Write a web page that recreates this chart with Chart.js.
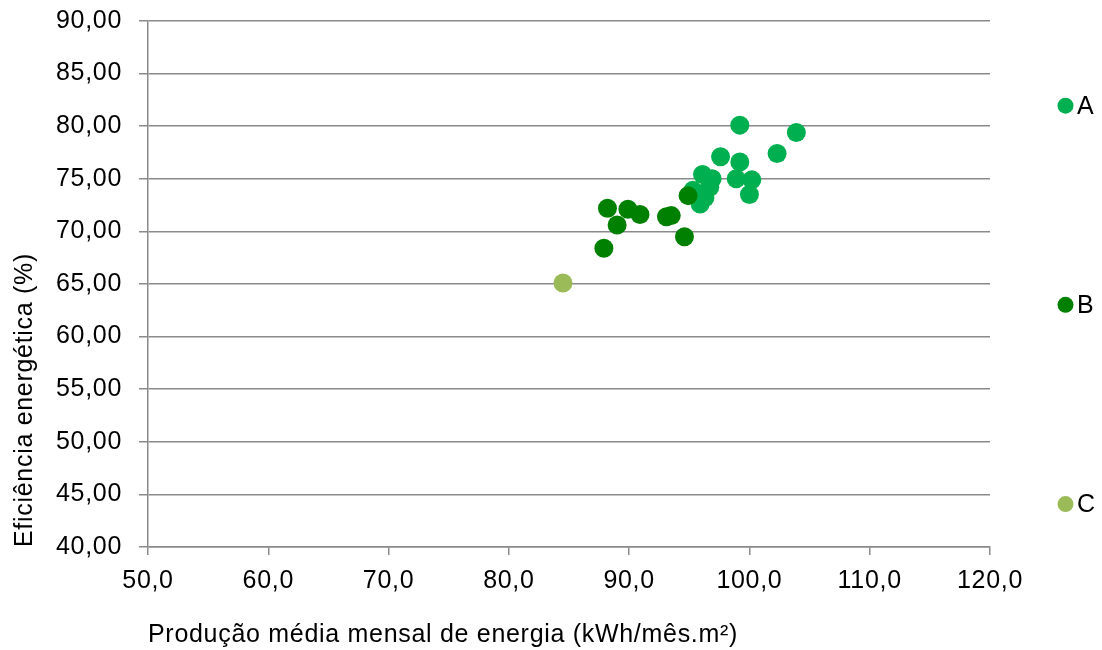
<!DOCTYPE html>
<html>
<head>
<meta charset="utf-8">
<script src="https://cdn.jsdelivr.net/npm/chart.js@4"></script>
<style>
    html, body { margin: 0; padding: 0; background: #ffffff; }
    #wrap { width: 1102px; height: 650px; }
</style>
</head>
<body>
<div id="wrap"><canvas id="eficienciaChart" width="1102" height="650"></canvas></div>
<script>
// Produção média mensal (kWh/mês.m²) e eficiência (%) por grupo
const producaoA = [99.2, 103.9, 102.3, 97.6, 99.2, 98.9, 100.2, 100.0, 96.1, 96.9, 96.7, 96.2, 95.9, 95.3, 96.3];
const eficienciaA = [80.1, 79.4, 77.4, 77.1, 76.6, 75.0, 74.9, 73.5, 75.4, 75.0, 74.2, 73.6, 72.6, 73.9, 73.2];

const producaoB = [88.2, 89.9, 90.9, 89.0, 87.9, 93.1, 93.5, 94.6, 94.9];
const eficienciaB = [72.2, 72.1, 71.6, 70.6, 68.4, 71.4, 71.5, 69.5, 73.4];

const producaoC = [84.5];
const eficienciaC = [65.1];

const grupos = ['A', 'B', 'C'];
const cores = ['#00b050', '#008000', '#9bbb59'];

const yTicks = [40, 45, 50, 55, 60, 65, 70, 75, 80, 85, 90];
const xTicks = [50, 60, 70, 80, 90, 100, 110, 120];

function toPoints(xs, ys) {
    return xs.map((x, i) => ({ x: x, y: ys[i] }));
}

const FONT = 'Arial, "Liberation Sans", sans-serif';
const FONT_SIZE = 25;
const AXIS_GRAY = '#8a8a8a';

// texto um pouco mais espaçado, como no gráfico original do Excel
const textSpacing = {
    id: 'textSpacing',
    beforeDraw(chart) {
        chart.ctx.letterSpacing = '0.7px';
    }
};

// legenda à direita, com os itens espalhados na vertical
const sideLegend = {
    id: 'sideLegend',
    afterDraw(chart) {
        const ctx = chart.ctx;
        const h = chart.height;
        ctx.save();
        ctx.font = FONT_SIZE + 'px ' + FONT;
        ctx.textBaseline = 'middle';
        ctx.textAlign = 'left';
        chart.data.datasets.forEach((ds, i) => {
            const y = h * (0.1625 + i * 0.3065);
            ctx.beginPath();
            ctx.arc(1065.5, y, 8, 0, Math.PI * 2);
            ctx.fillStyle = ds.backgroundColor;
            ctx.fill();
            ctx.fillStyle = '#000000';
            ctx.fillText(ds.label, 1077, y + 1);
        });
        ctx.restore();
    }
};

const datasets = [
    toPoints(producaoA, eficienciaA),
    toPoints(producaoB, eficienciaB),
    toPoints(producaoC, eficienciaC)
].map((pts, i) => ({
    label: grupos[i],
    data: pts,
    backgroundColor: cores[i],
    borderColor: cores[i],
    borderWidth: 0,
    pointRadius: 9.5,
    pointHoverRadius: 9.5,
    order: 3 - i
}));

const ctx = document.getElementById('eficienciaChart').getContext('2d');
const chart = new Chart(ctx, {
    type: 'scatter',
    data: { datasets: datasets },
    options: {
        responsive: false,
        animation: false,
        layout: {
            autoPadding: false,
            padding: { left: 0, right: 112, top: 21, bottom: 0 }
        },
        plugins: {
            legend: { display: false },
            tooltip: { enabled: false }
        },
        scales: {
            x: {
                type: 'linear',
                min: 50,
                max: 120,
                afterFit: (scale) => {
                    scale.height = 103;
                    scale.paddingLeft = 0;
                    scale.paddingRight = 0;
                },
                afterBuildTicks: (scale) => { scale.ticks = xTicks.map(v => ({ value: v })); },
                grid: {
                    drawOnChartArea: false,
                    drawTicks: true,
                    tickLength: 8,
                    color: AXIS_GRAY,
                    lineWidth: 1.5
                },
                border: { color: AXIS_GRAY, width: 1.5 },
                ticks: {
                    color: '#000000',
                    padding: 11,
                    font: { family: FONT, size: FONT_SIZE },
                    callback: (v) => v.toFixed(1).replace('.', ',')
                },
                title: {
                    display: true,
                    text: 'Produção média mensal de energia (kWh/mês.m²)',
                    align: 'start',
                    color: '#000000',
                    font: { family: FONT, size: FONT_SIZE },
                    padding: { top: 0, bottom: 0 }
                }
            },
            y: {
                type: 'linear',
                min: 40,
                max: 90,
                afterFit: (scale) => {
                    scale.width = 148;
                    scale.paddingTop = 0;
                    scale.paddingBottom = 0;
                },
                afterBuildTicks: (scale) => { scale.ticks = yTicks.map(v => ({ value: v })); },
                grid: {
                    drawTicks: true,
                    tickLength: 9,
                    color: AXIS_GRAY,
                    lineWidth: 1.5
                },
                border: { color: AXIS_GRAY, width: 1.5 },
                ticks: {
                    color: '#000000',
                    padding: 17,
                    font: { family: FONT, size: FONT_SIZE },
                    callback: (v) => v.toFixed(2).replace('.', ',')
                },
                title: {
                    display: true,
                    text: 'Eficiência energética (%)',
                    align: 'start',
                    color: '#000000',
                    font: { family: FONT, size: FONT_SIZE },
                    padding: { top: 10, bottom: 0 }
                }
            }
        }
    },
    plugins: [textSpacing, sideLegend]
});
</script>
</body>
</html>
